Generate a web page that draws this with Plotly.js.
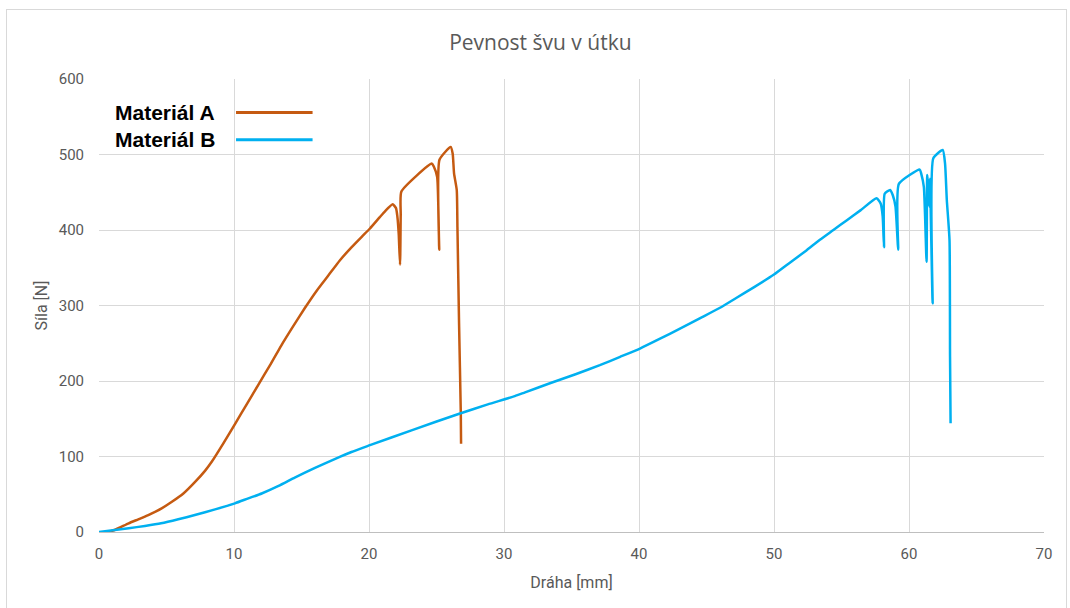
<!DOCTYPE html>
<html>
<head>
<meta charset="utf-8">
<script src="https://cdn.plot.ly/plotly-3.0.1.min.js"></script>
<style>
  html, body { margin: 0; padding: 0; background: #fff; }
  #frame { position: absolute; left: 6px; top: 9px; width: 1061px; height: 610px; border: 1px solid #d9d9d9; box-sizing: border-box; }
  #chart { position: absolute; left: 0; top: 0; width: 1070px; height: 608px; }
</style>
</head>
<body>
<div id="frame"></div>
<div id="chart"></div>
<script>
// Materiál A
const drahaA = [0.7, 1.2, 2.2, 2.91, 3.65, 4.64, 5.4, 6.25, 7.1, 7.85, 8.35, 9.2, 10.07, 10.94, 11.8, 12.67, 13.5, 14.4, 15.26, 16.1, 17.0, 17.85, 18.7, 19.46, 20.07, 20.8, 21.2, 21.75, 22.0, 22.1, 22.2, 22.3, 22.35, 22.4, 24.65, 24.8, 25.05, 25.2, 25.22, 26.05, 26.2, 26.3, 26.5, 26.55, 26.67, 26.8, 26.82];
const silaA  = [0, 3, 11.5, 16.8, 22.5, 31.3, 40, 51, 66, 81, 93, 117, 143, 169, 195, 221, 247, 273, 297, 319, 340, 360, 377, 391, 402, 417, 425, 434, 429, 418, 395, 354, 420, 451, 488, 484, 470, 374, 493, 510, 501, 475, 453, 404, 277, 157, 117];
// Materiál B
const drahaB = [0, 2.2, 3.4, 4.6, 5.87, 7.1, 8.6, 10.07, 11.06, 12.05, 13.3, 14.5, 16.0, 17.5, 18.7, 20.07, 23.2, 26.74, 28.8, 30.8, 31.56, 33.4, 35.3, 37.1, 38.6, 40.07, 41.56, 43.0, 44.5, 46.0, 47.2, 48.5, 50.0, 51.2, 52.4, 53.4, 54.4, 55.4, 56.4, 57.6, 57.9, 58.05, 58.15, 58.2, 58.6, 58.8, 59.0, 59.2, 59.25, 60.8, 60.9, 61.1, 61.3, 61.35, 61.5, 61.55, 61.75, 61.8, 62.5, 62.67, 62.8, 63.0, 63.04, 63.08];
const silaB  = [0, 5, 8, 11.5, 16.8, 22.5, 30, 38, 44.6, 51, 61, 72, 85, 97, 106, 115, 135, 157, 169, 180, 185, 197, 209, 221, 232, 243, 256, 269, 283, 297, 310, 324, 341, 357, 373, 387, 400, 413, 426, 442, 435, 418, 377, 448, 453, 446, 431, 374, 461, 480, 475, 457, 358, 473, 431, 468, 303, 495, 506, 488, 440, 387, 232, 144];

const seriesNames = ['Materiál A', 'Materiál B'];
const seriesColors = ['#C55A11', '#00B0F0'];
const xTicks = [0, 10, 20, 30, 40, 50, 60, 70];
const yTicks = [0, 100, 200, 300, 400, 500, 600];

const narrow = 'Roboto, "Liberation Sans", sans-serif';
const titleFont = '"Open Sans", Calibri, sans-serif';

const traces = [
  { x: drahaA, y: silaA, type: 'scatter', mode: 'lines', name: seriesNames[0],
    line: { color: seriesColors[0], width: 2.5, shape: 'spline', smoothing: 0.5 }, showlegend: false },
  { x: drahaB, y: silaB, type: 'scatter', mode: 'lines', name: seriesNames[1],
    line: { color: seriesColors[1], width: 2.5, shape: 'spline', smoothing: 0.5 }, showlegend: false }
];

// legend drawn as text with the line sample on its right (as in the original)
const legY = [0.926, 0.866];
const annotations = [];
const shapes = [];
seriesNames.forEach((n, i) => {
  annotations.push({ xref: 'paper', yref: 'paper', x: 0.015, y: legY[i], xanchor: 'left', yanchor: 'middle',
    text: n, showarrow: false,
    font: { family: '"Liberation Sans", Arial, sans-serif', size: 21, weight: 'bold', color: '#000' } });
  shapes.push({ type: 'line', xref: 'paper', yref: 'paper', x0: 0.145, x1: 0.226, y0: legY[i], y1: legY[i],
    line: { color: seriesColors[i], width: 3 } });
});

const layout = {
  width: 1070, height: 608,
  paper_bgcolor: 'rgba(0,0,0,0)', plot_bgcolor: '#fff',
  margin: { l: 99, r: 26, t: 79, b: 76 },
  font: { family: narrow, color: '#595959', size: 14 },
  title: { text: 'Pevnost švu v útku', x: 0.505, xref: 'container', y: 0.93, yref: 'container', yanchor: 'middle',
    font: { family: titleFont, size: 21, color: '#595959' } },
  xaxis: {
    range: [0, 70], tickvals: xTicks, ticktext: xTicks.map(String),
    showgrid: true, gridcolor: '#d9d9d9', gridwidth: 1, zeroline: false,
    showline: true, linecolor: '#bfbfbf', linewidth: 1, ticks: '', ticklabelstandoff: 8,
    tickfont: { family: narrow, size: 15, color: '#595959' },
    title: { text: 'Dráha [mm]', standoff: 14, font: { family: narrow, size: 16, color: '#595959' } }
  },
  yaxis: {
    range: [0, 600], tickvals: yTicks, ticktext: yTicks.map(String),
    showgrid: true, gridcolor: '#d9d9d9', gridwidth: 1, zeroline: false,
    showline: false, ticks: '', ticklabelstandoff: 14,
    tickfont: { family: narrow, size: 15, color: '#595959' },
    title: { text: 'Síla [N]', standoff: 7, font: { family: narrow, size: 16, color: '#595959' } }
  },
  annotations: annotations,
  shapes: shapes
};

Plotly.newPlot('chart', traces, layout, { displayModeBar: false, staticPlot: true });
</script>
</body>
</html>
